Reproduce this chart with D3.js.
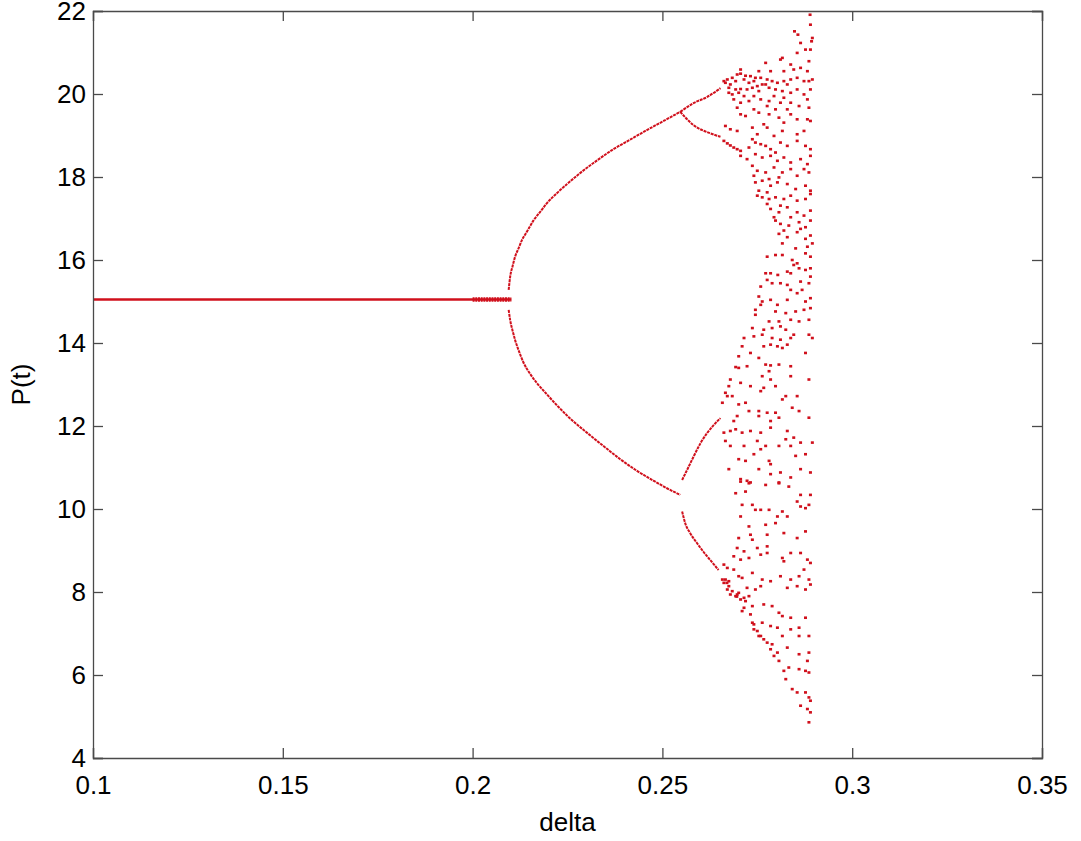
<!DOCTYPE html>
<html>
<head>
<meta charset="utf-8">
<script src="https://cdn.jsdelivr.net/npm/d3@7"></script>
<style>
  body { margin: 0; background: #fff; }
  text { font-family: "Liberation Sans", Arial, sans-serif; fill: #000; }
</style>
</head>
<body>
<div id="chart-container"></div>
<script>
// axis ticks
const xTicks = [0.1, 0.15, 0.2, 0.25, 0.3, 0.35];
const yTicks = [4, 6, 8, 10, 12, 14, 16, 18, 20, 22];

// stable fixed point P = 15.05 (thicker where convergence is slow)
const fixedLine = [[0.1, 15.05], [0.2102, 15.05]];
const slowLine = [[0.2, 15.05], [0.2102, 15.05]];

// period-2 branches [delta, P]
const upper2 = [[0.2095,15.28],[0.2099,15.60],[0.2105,15.84],[0.2112,16.08],[0.2121,16.28],[0.2130,16.48],
  [0.2143,16.68],[0.2161,16.96],[0.2178,17.16],[0.2196,17.37],[0.2222,17.61],[0.2249,17.83],[0.2284,18.10],
  [0.2328,18.40],[0.2371,18.67],[0.2415,18.90],[0.2459,19.13],[0.2503,19.35],[0.2547,19.57]];
const lower2 = [[0.2095,14.80],[0.2099,14.55],[0.2105,14.31],[0.2112,14.07],[0.2121,13.83],[0.2134,13.53],
  [0.2152,13.25],[0.2169,13.04],[0.2196,12.76],[0.2222,12.50],[0.2257,12.18],[0.2301,11.84],[0.2354,11.45],
  [0.2389,11.20],[0.2433,10.92],[0.2477,10.68],[0.2512,10.50],[0.2547,10.34]];

// period-4 branches
const p4a = [[0.2547,19.57],[0.2582,19.78],[0.2618,19.93],[0.2653,20.14]];
const p4b = [[0.2547,19.57],[0.2582,19.25],[0.2627,19.05],[0.2653,18.97]];
const p4c = [[0.2552,10.70],[0.2565,10.94],[0.2582,11.26],[0.2600,11.58],[0.2617,11.82],[0.2635,12.02],[0.2653,12.19]];
const p4d = [[0.2552,9.94],[0.2560,9.66],[0.2573,9.42],[0.2591,9.18],[0.2608,8.97],[0.2626,8.77],[0.2648,8.53]];

// chaotic region, upper part
const chaosUpper = [[0.2889,21.91],[0.2890,21.67],[0.2848,21.51],[0.2857,21.43],[0.2895,21.35],[0.2893,21.27],
  [0.2864,21.23],[0.2877,21.07],[0.2890,21.07],[0.2816,20.87],[0.2855,20.99],[0.2886,20.79],[0.2772,20.75],
  [0.2811,20.83],[0.2838,20.71],[0.2846,20.59],[0.2864,20.63],[0.2882,20.55],[0.2754,20.55],[0.2706,20.59],
  [0.2785,20.55],[0.2820,20.55],
  [0.2662,20.31],[0.2671,20.35],[0.2684,20.39],[0.2697,20.47],[0.2706,20.49],[0.2719,20.44],[0.2732,20.43],
  [0.2745,20.39],[0.2759,20.39],[0.2776,20.35],[0.2789,20.31],[0.2803,20.27],[0.2820,20.31],[0.2838,20.35],
  [0.2855,20.39],[0.2873,20.31],[0.2886,20.31],[0.2895,20.35],[0.2679,20.23],[0.2728,20.27],[0.2763,20.23],
  [0.2829,20.23],
  [0.2666,20.27],[0.2693,20.31],[0.2715,20.35],[0.2741,20.31],[0.2675,20.03],[0.2701,20.03],[0.2723,20.11],
  [0.2750,20.19],[0.2772,20.23],
  [0.2675,20.15],[0.2693,20.11],[0.2706,20.12],[0.2737,20.15],[0.2754,20.07],[0.2781,20.15],[0.2798,20.11],
  [0.2816,20.07],[0.2838,20.03],[0.2855,20.11],[0.2873,19.99],[0.2890,20.11],[0.2684,19.99],[0.2715,19.95],
  [0.2741,19.95],[0.2794,19.95],[0.2820,19.91],[0.2882,19.87],
  [0.2688,19.87],[0.2706,19.79],[0.2728,19.83],[0.2759,19.87],[0.2781,19.83],[0.2811,19.79],[0.2838,19.79],
  [0.2860,19.71],[0.2886,19.67],[0.2697,19.67],[0.2741,19.63],[0.2776,19.71],[0.2798,19.63],[0.2829,19.63],
  [0.2706,19.51],[0.2719,19.47],[0.2754,19.55],[0.2781,19.51],[0.2807,19.43],[0.2838,19.51],[0.2855,19.39],
  [0.2882,19.39],[0.2890,19.35],[0.2767,19.27],[0.2820,19.31],
  [0.2666,19.23],[0.2679,19.15],[0.2697,19.11],[0.2737,19.19],[0.2776,19.19],[0.2816,19.11],[0.2855,19.03],
  [0.2873,19.11],[0.2750,19.03],[0.2794,18.99],
  [0.2662,18.87],[0.2671,18.81],[0.2679,18.76],[0.2688,18.71],[0.2697,18.67],[0.2706,18.63],[0.2737,18.91],
  [0.2745,18.83],[0.2759,18.79],[0.2772,18.75],[0.2785,18.67],[0.2811,18.83],[0.2829,18.75],[0.2855,18.87],
  [0.2877,18.75],[0.2890,18.67],[0.2728,18.71],[0.2798,18.59],
  [0.2706,18.51],[0.2723,18.43],[0.2745,18.55],[0.2763,18.47],[0.2785,18.51],[0.2803,18.39],[0.2820,18.47],
  [0.2838,18.35],[0.2864,18.43],[0.2882,18.31],[0.2890,18.51],[0.2737,18.27],
  [0.2750,18.15],[0.2772,18.11],[0.2794,18.23],[0.2816,18.11],[0.2838,18.19],[0.2855,18.03],[0.2873,18.19],
  [0.2886,18.11],[0.2741,18.03],[0.2781,17.95],[0.2807,17.99],
  [0.2745,17.87],[0.2763,17.91],[0.2785,17.79],[0.2803,17.87],[0.2829,17.83],[0.2851,17.71],[0.2877,17.79],
  [0.2890,17.67],[0.2754,17.67],[0.2776,17.63],
  [0.2750,17.55],[0.2763,17.51],[0.2781,17.47],[0.2798,17.51],[0.2820,17.47],[0.2838,17.55],[0.2855,17.43],
  [0.2877,17.47],[0.2890,17.59],[0.2776,17.35],[0.2811,17.31],
  [0.2785,17.23],[0.2807,17.15],[0.2829,17.27],[0.2855,17.15],[0.2873,17.07],[0.2890,17.19],[0.2794,17.03],
  [0.2838,17.03],
  [0.2798,16.95],[0.2811,16.87],[0.2833,16.83],[0.2860,16.91],[0.2877,16.79],[0.2890,16.95],[0.2820,16.71],
  [0.2864,16.75],
  [0.2807,16.63],[0.2829,16.55],[0.2855,16.67],[0.2877,16.51],[0.2890,16.59]];

// chaotic region, middle part
const chaosMiddle = [[0.2816,16.40],[0.2851,16.28],[0.2882,16.32],[0.2895,16.40],[0.2776,16.08],[0.2798,16.12],
  [0.2816,16.12],[0.2842,16.00],[0.2855,15.92],[0.2877,16.16],[0.2890,16.08],[0.2772,15.68],[0.2785,15.68],
  [0.2804,15.64],[0.2829,15.72],[0.2838,15.68],[0.2860,15.80],[0.2877,15.76],[0.2890,15.80],[0.2846,15.88],
  [0.2776,15.52],[0.2789,15.44],[0.2811,15.44],[0.2829,15.40],[0.2864,15.48],[0.2886,15.44],[0.2759,15.36],
  [0.2838,15.28],[0.2868,15.28],[0.2890,15.60],[0.2754,15.12],[0.2763,15.00],[0.2785,15.04],[0.2803,14.92],
  [0.2829,15.04],[0.2855,15.20],[0.2877,15.00],[0.2890,15.08],[0.2759,14.92],[0.2745,14.80],[0.2745,14.68],
  [0.2798,14.76],[0.2825,14.72],[0.2851,14.76],[0.2873,14.80],[0.2890,14.84],[0.2781,14.52],[0.2807,14.52],
  [0.2838,14.56],[0.2860,14.52],[0.2886,14.56],[0.2737,14.36],[0.2767,14.32],[0.2789,14.36],[0.2811,14.40],
  [0.2825,14.32],[0.2846,14.20],[0.2886,14.20],[0.2715,14.12],[0.2741,14.16],[0.2763,14.20],[0.2789,14.12],
  [0.2811,14.08],[0.2838,14.12],[0.2710,13.92],[0.2732,13.76],[0.2754,13.64],[0.2767,13.92],[0.2785,13.96],
  [0.2803,13.92],[0.2816,13.88],[0.2829,13.96],[0.2877,13.76],[0.2895,14.12],[0.2701,13.68],[0.2693,13.42],
  [0.2701,13.40],[0.2723,13.44],[0.2772,13.48],[0.2785,13.46],[0.2807,13.48],[0.2838,13.44],[0.2838,13.20],
  [0.2781,13.32],[0.2763,13.20],[0.2679,13.12],[0.2675,12.96],[0.2706,13.04],[0.2732,12.96],[0.2759,12.84],
  [0.2767,12.92],[0.2785,13.12],[0.2798,12.96],[0.2825,12.72],[0.2855,12.72],[0.2886,13.12],[0.2666,12.80],
  [0.2671,12.72],[0.2684,12.72],[0.2658,12.56],[0.2701,12.52],[0.2719,12.56],[0.2728,12.36],[0.2754,12.36],
  [0.2776,12.32],[0.2798,12.32],[0.2816,12.64],[0.2860,12.36],[0.2886,12.20],[0.2688,12.12],[0.2697,12.24],
  [0.2754,12.24],[0.2785,12.12],[0.2807,12.20],[0.2842,12.44],[0.2662,11.84],[0.2679,11.88],[0.2693,11.92],
  [0.2710,11.84],[0.2732,11.88],[0.2759,11.84],[0.2785,11.96],[0.2829,11.88],[0.2846,11.72],[0.2864,11.60],
  [0.2895,11.60],[0.2666,11.64],[0.2750,11.64],[0.2679,11.52],[0.2715,11.52],[0.2741,11.32],[0.2759,11.44],
  [0.2772,11.52],[0.2807,11.52],[0.2825,11.68],[0.2838,11.52],[0.2851,11.28],[0.2877,11.32],[0.2675,10.96],
  [0.2701,11.20],[0.2719,11.16],[0.2754,10.96],[0.2781,11.16],[0.2785,11.08],[0.2785,10.84],[0.2811,10.88],
  [0.2864,10.96],[0.2890,10.88],[0.2706,10.72],[0.2723,10.68],[0.2732,10.64],[0.2807,10.64],[0.2838,10.76]];

// chaotic region, lower part
const chaosLower = [[0.2706,10.66],[0.2728,10.62],[0.2772,10.58],[0.2807,10.62],[0.2833,10.54],[0.2693,10.38],
  [0.2719,10.42],[0.2864,10.34],[0.2890,10.34],[0.2710,10.10],[0.2737,10.10],[0.2745,9.98],[0.2759,9.98],
  [0.2781,9.98],[0.2816,9.94],[0.2855,10.18],[0.2864,10.06],[0.2877,10.02],[0.2886,10.10],[0.2706,9.82],
  [0.2803,9.82],[0.2829,9.82],[0.2728,9.58],[0.2772,9.62],[0.2798,9.66],[0.2732,9.38],[0.2776,9.38],
  [0.2820,9.42],[0.2877,9.46],[0.2855,9.30],[0.2701,9.30],[0.2737,9.26],[0.2776,9.10],[0.2697,9.06],
  [0.2715,8.98],[0.2750,9.06],[0.2662,8.66],[0.2688,8.86],[0.2706,8.78],[0.2728,8.82],[0.2759,8.90],
  [0.2776,8.94],[0.2816,8.82],[0.2838,8.94],[0.2864,8.94],[0.2882,8.78],[0.2820,8.74],[0.2873,8.54],
  [0.2890,8.70],[0.2671,8.58],[0.2688,8.54],[0.2701,8.38],[0.2710,8.34],[0.2737,8.46],[0.2763,8.30],
  [0.2785,8.26],[0.2811,8.38],[0.2838,8.30],[0.2860,8.38],[0.2886,8.30],[0.2890,8.18],[0.2675,8.14],
  [0.2684,8.02],[0.2701,7.98],[0.2723,8.10],[0.2745,8.06],[0.2759,8.14],[0.2829,8.10],[0.2855,8.14],
  [0.2877,8.06],[0.2715,7.86],[0.2728,7.90],[0.2715,7.62],[0.2737,7.66],[0.2767,7.70],[0.2789,7.66],
  [0.2807,7.50],[0.2732,7.46],[0.2710,7.54],[0.2741,7.22],[0.2763,7.26],[0.2785,7.18],[0.2803,7.14],
  [0.2816,7.42],[0.2838,7.38],[0.2877,7.38],[0.2838,7.10],[0.2860,7.14],[0.2754,6.94],[0.2776,6.78],
  [0.2789,6.74],[0.2816,6.94],[0.2860,6.94],[0.2886,6.94],[0.2767,6.86],[0.2785,6.62],[0.2803,6.54],
  [0.2829,6.66],[0.2860,6.50],[0.2886,6.54],[0.2807,6.34],[0.2882,6.34],[0.2820,6.10],[0.2833,6.18],
  [0.2860,6.14],[0.2877,6.10],[0.2886,6.06],[0.2825,5.90],[0.2842,5.66],[0.2855,5.58],[0.2877,5.58],
  [0.2886,5.46],[0.2890,5.38],[0.2864,5.26],[0.2882,5.18],[0.2890,5.10],[0.2886,4.86],
  [0.2666,8.30],[0.2675,8.26],[0.2697,7.94],[0.2706,7.82],[0.2737,7.26],[0.2750,7.06],[0.2759,6.94],
  [0.2794,6.46],[0.2670,8.22],[0.2696,7.89],
  [0.2658,8.30],[0.2662,8.22],[0.2671,8.06],[0.2679,7.94],[0.2693,7.90],[0.2741,7.10],[0.2719,7.78]];

const margin = {top: 11, right: 39, bottom: 83, left: 93};
const width = 1081 - margin.left - margin.right;
const height = 841 - margin.top - margin.bottom;
const red = "#d0101c";
const axisColor = "#4a4a4a";

const x = d3.scaleLinear().domain([0.1, 0.35]).range([0, width]);
const y = d3.scaleLinear().domain([4, 22]).range([height, 0]);

const svg = d3.select("#chart-container")
    .append("svg")
    .attr("width", 1081)
    .attr("height", 841)
    .append("g")
    .attr("transform", `translate(${margin.left},${margin.top})`);

const line = d3.line()
    .x(d => x(d[0]))
    .y(d => y(d[1]))
    .curve(d3.curveMonotoneX);

// fixed point
svg.append("path")
    .datum(fixedLine)
    .attr("fill", "none")
    .attr("stroke", red)
    .attr("stroke-width", 2.4)
    .attr("d", line);

svg.append("path")
    .datum(slowLine)
    .attr("fill", "none")
    .attr("stroke", red)
    .attr("stroke-width", 4.5)
    .attr("stroke-dasharray", "2,0.7")
    .attr("d", line);

// bifurcation branches
[upper2, lower2, p4a, p4b, p4c, p4d].forEach(b => {
  svg.append("path")
      .datum(b)
      .attr("fill", "none")
      .attr("stroke", red)
      .attr("stroke-width", 2)
      .attr("stroke-dasharray", "3,0.8")
      .attr("d", line);
});

// chaos dots
const chaos = chaosUpper.concat(chaosMiddle, chaosLower);
svg.append("g")
  .selectAll("rect")
  .data(chaos)
  .join("rect")
    .attr("x", d => x(d[0]) - 1.5)
    .attr("y", d => y(d[1]) - 1.3)
    .attr("width", 3)
    .attr("height", 2.6)
    .attr("fill", red);

// axes: ticks inward on all four sides
const tickLen = 10;
const xAxisB = svg.append("g")
    .attr("transform", `translate(0,${height})`)
    .call(d3.axisBottom(x).tickValues(xTicks).tickSize(-tickLen).tickPadding(18)
      .tickFormat(d3.format("")));
const xAxisT = svg.append("g")
    .call(d3.axisTop(x).tickValues(xTicks).tickSize(-tickLen).tickFormat(""));
const yAxisL = svg.append("g")
    .call(d3.axisLeft(y).tickValues(yTicks).tickSize(-tickLen).tickPadding(7));
const yAxisR = svg.append("g")
    .attr("transform", `translate(${width},0)`)
    .call(d3.axisRight(y).tickValues(yTicks).tickSize(-tickLen).tickFormat(""));

[xAxisB, xAxisT, yAxisL, yAxisR].forEach(a => {
  a.select(".domain").attr("stroke", axisColor).attr("stroke-width", 1.3);
  a.selectAll(".tick line").attr("stroke", axisColor).attr("stroke-width", 1.3);
  a.selectAll(".tick text")
    .style("font-family", "'Liberation Sans', Arial, sans-serif")
    .style("font-size", "26px")
    .attr("fill", "#000");
});

// axis labels
svg.append("text")
    .attr("x", width / 2)
    .attr("y", height + 73)
    .attr("text-anchor", "middle")
    .style("font-size", "26px")
    .text("delta");

svg.append("text")
    .attr("transform", `translate(${-63},${height / 2}) rotate(-90)`)
    .attr("text-anchor", "middle")
    .style("font-size", "26px")
    .text("P(t)");
</script>
</body>
</html>
